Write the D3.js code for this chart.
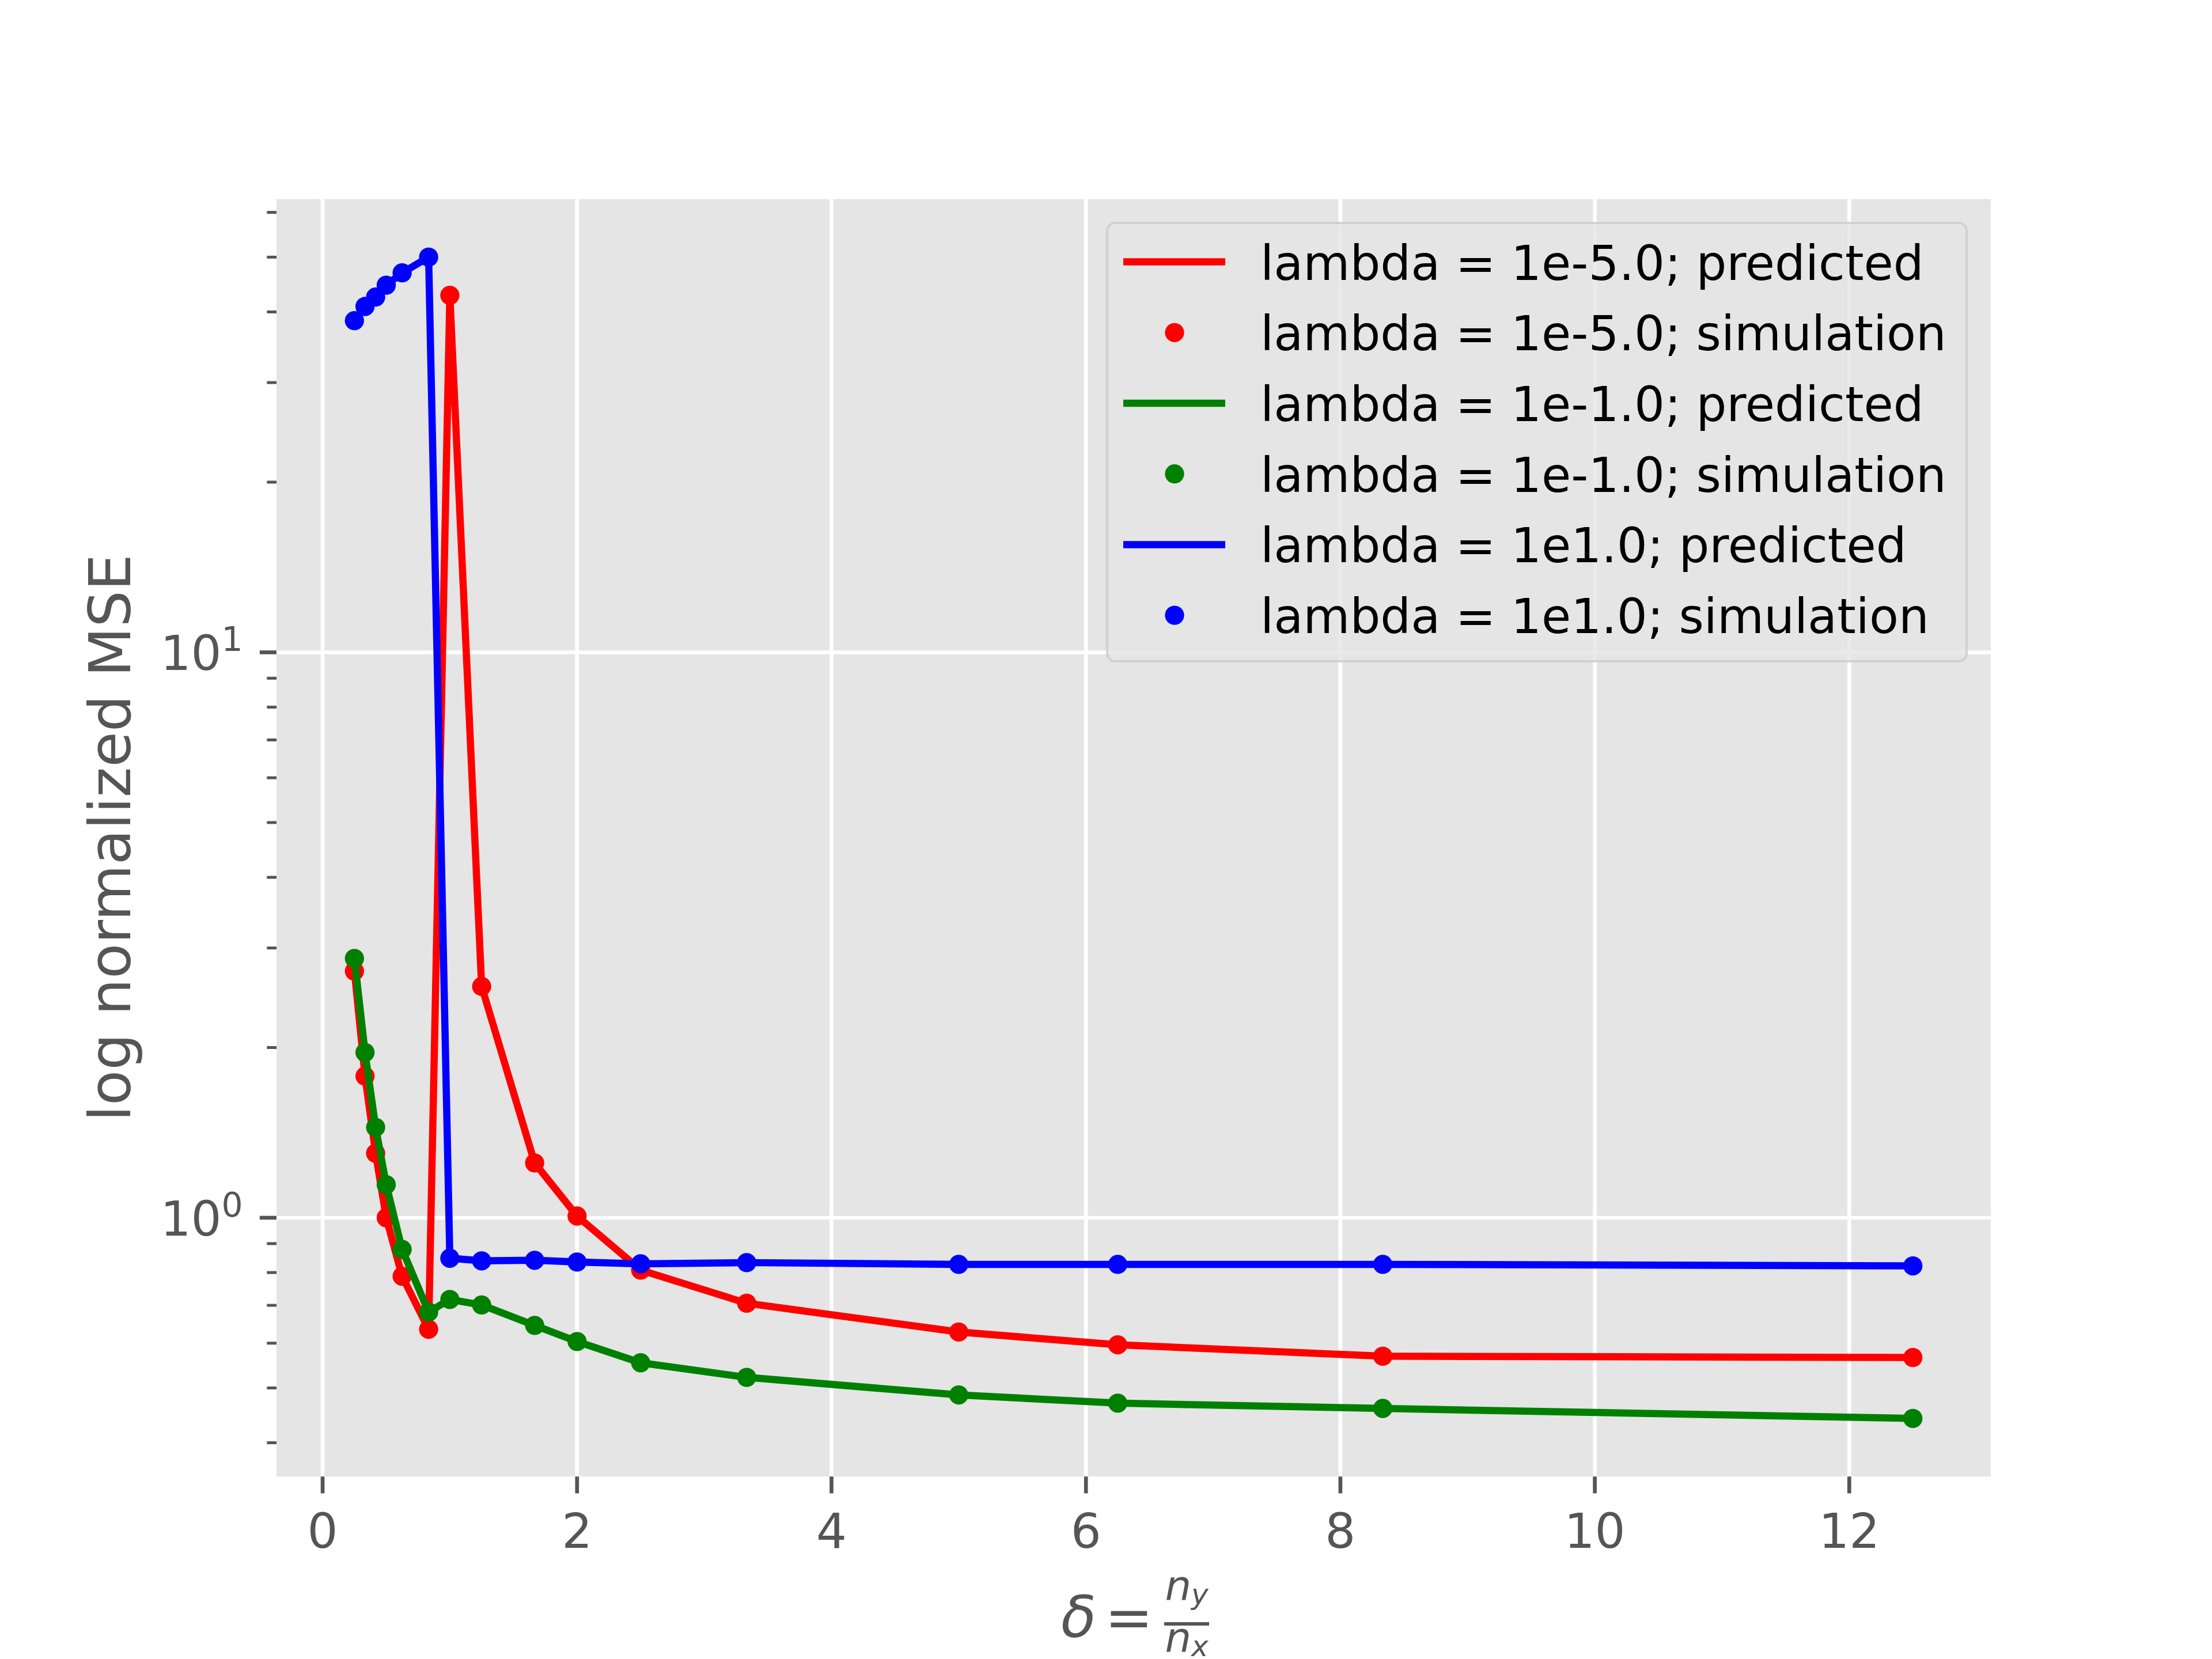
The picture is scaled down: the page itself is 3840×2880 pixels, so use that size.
<!DOCTYPE html>
<html lang="en">
<head>
<meta charset="UTF-8">
<title>log normalized MSE vs delta</title>
<script src="https://cdn.jsdelivr.net/npm/d3@7/dist/d3.min.js"></script>
<style>
  body { margin: 0; background: #fff; }
  text { font-family: "DejaVu Sans", sans-serif; }
</style>
</head>
<body>
<svg id="chart" width="3840" height="2880"></svg>
<script>
// delta = n_y / n_x
const delta = [0.25, 0.3333, 0.4167, 0.5, 0.625, 0.8333, 1.0, 1.25, 1.6667, 2.0, 2.5, 3.3333, 5.0, 6.25, 8.3333, 12.5];

// normalized MSE for each lambda (predicted curve goes through the simulation points)
const mseLambda1em5 = [2.73, 1.78, 1.30, 1.00, 0.788, 0.635, 42.8, 2.565, 1.25, 1.007, 0.808, 0.706, 0.628, 0.596, 0.569, 0.566];
const mseLambda1em1 = [2.875, 1.96, 1.445, 1.144, 0.879, 0.681, 0.717, 0.701, 0.645, 0.604, 0.554, 0.522, 0.486, 0.470, 0.460, 0.4416];
const mseLambda1e1 = [38.6, 40.9, 42.5, 44.6, 46.9, 50.0, 0.848, 0.839, 0.841, 0.835, 0.829, 0.833, 0.827, 0.827, 0.827, 0.822];

const seriesNames = ["1e-5.0", "1e-1.0", "1e1.0"];
const seriesColors = ["#ff0000", "#008000", "#0000ff"];
const seriesValues = [mseLambda1em5, mseLambda1em1, mseLambda1e1];

const xTicks = [0, 2, 4, 6, 8, 10, 12];
const yMajorTicks = [1, 10];
const yMajorExp = ["0", "1"];
const yMinorTicks = [0.4, 0.5, 0.6, 0.7, 0.8, 0.9, 2, 3, 4, 5, 6, 7, 8, 9, 20, 30, 40, 50, 60];

// figure geometry (matplotlib default subplot at 600 dpi)
const axLeft = 480, axRight = 3456, axTop = 345.6, axBottom = 2563.2;
const pt = 600 / 72;

const svg = d3.select("#chart");

// autoscale with 5% margins (log space on y)
const xMin = d3.min(delta), xMax = d3.max(delta);
const xPad = (xMax - xMin) * 0.05;
const x = d3.scaleLinear().domain([xMin - xPad, xMax + xPad]).range([axLeft, axRight]);

const allY = seriesValues.flat();
const lyMin = Math.log10(d3.min(allY)), lyMax = Math.log10(d3.max(allY));
const lyPad = (lyMax - lyMin) * 0.05;
const y = d3.scaleLog().domain([Math.pow(10, lyMin - lyPad), Math.pow(10, lyMax + lyPad)]).range([axBottom, axTop]);

// axes background
svg.append("rect")
  .attr("x", axLeft).attr("y", axTop)
  .attr("width", axRight - axLeft).attr("height", axBottom - axTop)
  .attr("fill", "#e5e5e5");

// grid
const grid = svg.append("g").attr("stroke", "#ffffff").attr("stroke-width", 0.8 * pt);
grid.selectAll("line.gx").data(xTicks).enter().append("line")
  .attr("x1", d => x(d)).attr("x2", d => x(d))
  .attr("y1", axTop).attr("y2", axBottom);
grid.selectAll("line.gy").data(yMajorTicks).enter().append("line")
  .attr("x1", axLeft).attr("x2", axRight)
  .attr("y1", d => y(d)).attr("y2", d => y(d));

// x axis ticks
const tickColor = "#555555";
const axes = svg.append("g");
axes.selectAll("line.xt").data(xTicks).enter().append("line")
  .attr("x1", d => x(d)).attr("x2", d => x(d))
  .attr("y1", axBottom).attr("y2", axBottom + 3.5 * pt)
  .attr("stroke", tickColor).attr("stroke-width", 0.8 * pt);
axes.selectAll("text.xl").data(xTicks).enter().append("text")
  .attr("x", d => x(d)).attr("y", 2687)
  .attr("text-anchor", "middle")
  .attr("font-size", 10 * pt)
  .attr("fill", tickColor)
  .text(d => d);

// y axis ticks
axes.selectAll("line.yt").data(yMajorTicks).enter().append("line")
  .attr("x1", axLeft - 3.5 * pt).attr("x2", axLeft)
  .attr("y1", d => y(d)).attr("y2", d => y(d))
  .attr("stroke", tickColor).attr("stroke-width", 0.8 * pt);
axes.selectAll("line.ym").data(yMinorTicks).enter().append("line")
  .attr("x1", axLeft - 2 * pt).attr("x2", axLeft)
  .attr("y1", d => y(d)).attr("y2", d => y(d))
  .attr("stroke", tickColor).attr("stroke-width", 0.6 * pt);

const yl = axes.selectAll("text.yl").data(yMajorTicks).enter().append("text")
  .attr("x", axLeft - 7 * pt).attr("y", d => y(d) + 31)
  .attr("text-anchor", "end")
  .attr("font-size", 10 * pt)
  .attr("fill", tickColor);
yl.append("tspan").text("10");
yl.append("tspan").attr("font-size", 7 * pt).attr("dy", -33).text((d, i) => yMajorExp[i]);

// series
const line = d3.line().x(d => x(d[0])).y(d => y(d[1]));
const plot = svg.append("g");
seriesValues.forEach((vals, i) => {
  const pts = delta.map((d, j) => [d, vals[j]]);
  plot.append("path")
    .attr("d", line(pts))
    .attr("fill", "none")
    .attr("stroke", seriesColors[i])
    .attr("stroke-width", 1.5 * pt)
    .attr("stroke-linejoin", "round")
    .attr("stroke-linecap", "square");
  plot.append("g").selectAll("circle").data(pts).enter().append("circle")
    .attr("cx", d => x(d[0])).attr("cy", d => y(d[1]))
    .attr("r", 2 * pt)
    .attr("fill", seriesColors[i]);
});

// legend
const legendRows = [];
seriesNames.forEach((n, i) => {
  legendRows.push({ label: "lambda = " + n + "; predicted", color: seriesColors[i], kind: "line" });
  legendRows.push({ label: "lambda = " + n + "; simulation", color: seriesColors[i], kind: "dot" });
});
const lg = svg.append("g");
lg.append("rect")
  .attr("x", 1922).attr("y", 387)
  .attr("width", 3414 - 1922).attr("height", 1148 - 387)
  .attr("rx", 14).attr("ry", 14)
  .attr("fill", "#e5e5e5").attr("fill-opacity", 0.8)
  .attr("stroke", "#cccccc").attr("stroke-opacity", 0.8)
  .attr("stroke-width", 0.5 * pt);
const rowH = 122.7, row0 = 454.6;
legendRows.forEach((r, i) => {
  const cy = row0 + i * rowH;
  if (r.kind === "line") {
    lg.append("line")
      .attr("x1", 1950).attr("x2", 2127).attr("y1", cy).attr("y2", cy)
      .attr("stroke", r.color).attr("stroke-width", 1.5 * pt);
  } else {
    lg.append("circle").attr("cx", 2039).attr("cy", cy).attr("r", 2 * pt).attr("fill", r.color);
  }
  lg.append("text")
    .attr("x", 2188).attr("y", cy + 31)
    .attr("font-size", 10 * pt)
    .attr("fill", "#000000")
    .text(r.label);
});

// y label
svg.append("text")
  .attr("transform", `translate(226,${(axTop + axBottom) / 2}) rotate(-90)`)
  .attr("text-anchor", "middle")
  .attr("font-size", 12 * pt)
  .attr("fill", tickColor)
  .text("log normalized MSE");

// x label: delta = n_y / n_x
const xlab = svg.append("g").attr("fill", tickColor);
xlab.append("text")
  .attr("x", 1842).attr("y", 2842)
  .attr("font-size", 12 * pt).attr("font-style", "italic")
  .text("δ");
xlab.append("text")
  .attr("x", 1918).attr("y", 2842)
  .attr("font-size", 12 * pt)
  .text("=");
const fracX = 2060;
xlab.append("rect")
  .attr("x", 2021).attr("y", 2816).attr("width", 2099 - 2021).attr("height", 6);
const num = xlab.append("text")
  .attr("x", fracX).attr("y", 2777).attr("text-anchor", "middle")
  .attr("font-size", 72).attr("font-style", "italic");
num.append("tspan").text("n");
num.append("tspan").attr("font-size", 50).attr("dy", 8).text("y");
const den = xlab.append("text")
  .attr("x", fracX).attr("y", 2867).attr("text-anchor", "middle")
  .attr("font-size", 72).attr("font-style", "italic");
den.append("tspan").text("n");
den.append("tspan").attr("font-size", 50).attr("dy", 8).text("x");
</script>
</body>
</html>
